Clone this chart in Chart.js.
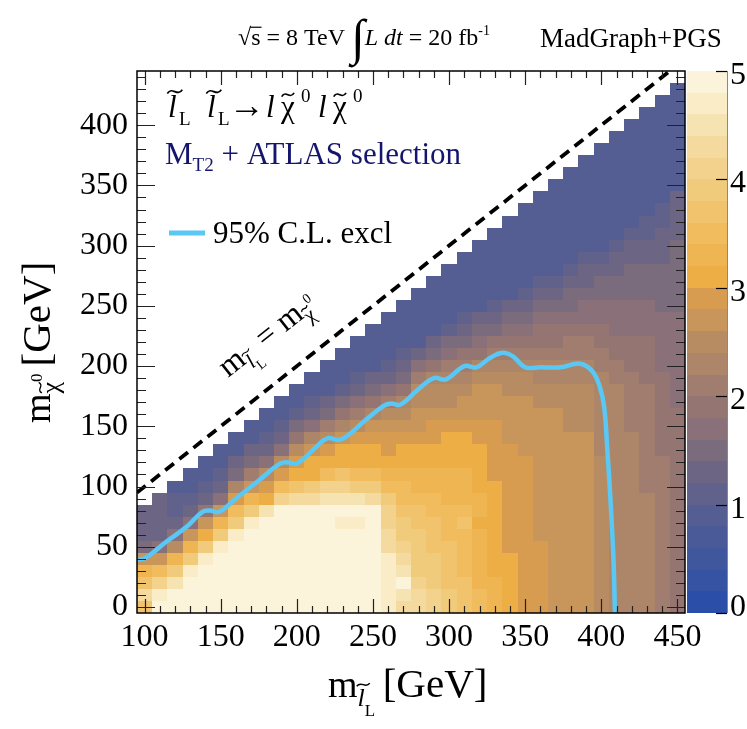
<!DOCTYPE html>
<html>
<head>
<meta charset="utf-8">
<script src="https://cdn.jsdelivr.net/npm/chart.js@4.4.1/dist/chart.umd.min.js"></script>
<style>
body { margin: 0; background: #fff; }
#wrap { width: 747px; height: 729px; }
</style>
</head>
<body>
<div id="wrap"><canvas id="myChart" width="747" height="729"></canvas></div>
<script>
// bin centres (GeV)
var xBins = [100,110,120,130,140,150,160,170,180,190,200,210,220,230,240,250,260,270,
             280,290,300,310,320,330,340,350,360,370,380,390,400,410,420,430,440,450];
var yBins = [0,10,20,30,40,50,60,70,80,90,100,110,120,130,140,150,160,170,180,190,200,
             210,220,230,240,250,260,270,280,290,300,310,320,330,340,350,360,370,380,390,
             400,410,420,430];

// one column per xBin, values from y = 0 upwards (up to y = x - 20)
var zValues = [
  [3.6,4.3,3.7,3.3,2.6,1.5,1.35,1.35,1.35],
  [4.9,4.6,4.1,3.5,2.7,1.7,1.35,1.3,1.3,1.25],
  [4.9,4.9,4.5,3.8,3.3,2.5,1.7,1.3,1.1,1.0,0.9],
  [4.9,4.9,4.9,4.6,3.9,3.2,2.6,1.7,1.3,1.1,0.9,0.9],
  [4.9,4.9,4.9,4.9,4.6,3.8,3.1,2.6,1.8,1.3,1.15,0.9,0.9],
  [4.9,4.9,4.9,4.9,4.9,4.6,3.8,3.2,2.6,1.7,1.3,1.1,0.9,0.9],
  [4.9,4.9,4.9,4.9,4.9,4.9,4.6,3.9,3.4,2.9,2.2,1.5,1.2,0.9,0.9],
  [4.9,4.9,4.9,4.9,4.9,4.9,4.9,4.7,3.9,3.2,2.7,2.0,1.5,1.2,0.9,0.9],
  [4.9,4.9,4.9,4.9,4.9,4.9,4.9,4.9,4.4,3.1,2.8,2.4,1.7,1.35,1.1,0.9,0.9],
  [4.9,4.9,4.9,4.9,4.9,4.9,4.9,4.9,4.9,4.1,3.4,2.9,2.4,1.7,1.35,1.1,0.9,0.9],
  [4.9,4.9,4.9,4.9,4.9,4.9,4.9,4.9,4.9,4.2,3.6,3.1,2.9,2.5,1.8,1.4,1.1,0.9,0.9],
  [4.9,4.9,4.9,4.9,4.9,4.9,4.9,4.9,4.9,4.2,3.8,3.1,3.0,2.6,2.2,1.6,1.3,1.0,0.9,0.9],
  [4.9,4.9,4.9,4.9,4.9,4.9,4.9,4.9,4.9,4.5,4.0,3.5,3.1,2.8,2.5,2.0,1.5,1.2,0.95,0.9,0.9],
  [4.9,4.9,4.9,4.9,4.9,4.9,4.9,4.7,4.9,4.5,4.0,3.6,3.1,3.1,2.7,2.3,1.8,1.4,1.1,0.9,0.9,0.9],
  [4.9,4.9,4.9,4.9,4.9,4.9,4.8,4.7,4.9,4.4,3.9,3.5,3.1,3.0,2.8,2.5,2.1,1.7,1.3,1.0,0.9,0.9,0.9],
  [4.9,4.9,4.9,4.9,4.9,4.9,4.9,4.9,4.9,4.3,3.9,3.5,3.1,3.0,2.8,2.6,2.3,1.9,1.5,1.2,0.95,0.9,0.9,0.9],
  [4.7,4.7,4.6,4.7,4.6,4.2,4.2,4.1,4.0,3.8,3.5,3.2,3.1,2.9,2.8,2.6,2.4,2.0,1.6,1.3,1.0,0.9,0.9,0.9,0.9],
  [4.3,4.5,4.9,4.4,4.2,4.0,3.9,3.8,3.6,3.5,3.4,3.2,3.1,3.05,2.8,2.7,2.5,2.2,1.8,1.5,1.2,1.0,0.9,0.9,0.9,0.9],
  [4.2,4.2,4.1,3.9,3.9,3.8,3.8,3.6,3.6,3.4,3.3,3.2,3.1,3.0,2.9,2.7,2.6,2.5,2.4,2.0,1.6,1.3,0.95,0.9,0.9,0.9,0.9],
  [4.1,4.0,3.9,3.8,3.8,3.7,3.7,3.6,3.5,3.4,3.3,3.2,3.1,3.1,2.95,2.8,2.6,2.5,2.4,2.2,1.8,1.5,1.2,0.95,0.9,0.9,0.9,0.9],
  [3.9,3.8,3.7,3.6,3.7,3.6,3.5,3.4,3.5,3.3,3.3,3.2,3.1,3.1,3.0,2.8,2.7,2.5,2.5,2.3,2.0,1.7,1.4,1.1,0.9,0.9,0.9,0.9,0.9],
  [3.7,3.6,3.6,3.5,3.5,3.5,3.4,3.6,3.4,3.3,3.2,3.2,3.1,3.1,3.0,2.9,2.7,2.6,2.5,2.3,2.1,1.8,1.5,1.3,1.0,0.9,0.9,0.9,0.9,0.9],
  [3.4,3.4,3.3,3.3,3.3,3.2,3.2,3.1,3.2,3.2,3.1,3.1,3.0,3.0,2.9,2.8,2.7,2.6,2.6,2.4,2.2,1.9,1.7,1.4,1.2,0.95,0.9,0.9,0.9,0.9,0.9],
  [3.2,3.2,3.2,3.1,3.1,3.1,3.0,3.1,3.1,3.1,3.0,2.9,2.9,2.9,2.8,2.8,2.7,2.6,2.6,2.4,2.2,2.0,1.8,1.5,1.3,1.05,0.9,0.9,0.9,0.9,0.9,0.9],
  [3.1,3.1,3.1,3.1,3.0,2.9,2.9,2.9,2.9,2.9,2.8,2.8,2.8,2.8,2.7,2.7,2.6,2.6,2.5,2.4,2.2,2.0,1.8,1.6,1.4,1.2,0.95,0.9,0.9,0.9,0.9,0.9,0.9],
  [2.9,2.9,2.9,2.9,2.9,2.9,2.9,2.8,2.8,2.8,2.8,2.8,2.8,2.7,2.7,2.7,2.7,2.6,2.5,2.4,2.2,2.1,1.9,1.7,1.5,1.3,1.05,0.9,0.9,0.9,0.9,0.9,0.9,0.9],
  [2.8,2.8,2.8,2.8,2.8,2.8,2.7,2.7,2.7,2.7,2.7,2.7,2.7,2.6,2.6,2.6,2.6,2.5,2.5,2.3,2.2,2.1,1.9,1.8,1.6,1.4,1.25,1.0,0.9,0.9,0.9,0.9,0.9,0.9,0.9],
  [2.75,2.75,2.75,2.75,2.75,2.7,2.7,2.7,2.7,2.7,2.7,2.7,2.7,2.6,2.6,2.6,2.6,2.5,2.4,2.3,2.2,2.1,1.9,1.8,1.7,1.5,1.3,1.1,0.9,0.9,0.9,0.9,0.9,0.9,0.9,0.9],
  [2.7,2.7,2.7,2.7,2.7,2.7,2.6,2.6,2.6,2.6,2.6,2.6,2.6,2.6,2.6,2.5,2.5,2.5,2.4,2.3,2.2,2.1,2.0,1.8,1.7,1.5,1.4,1.2,1.0,0.9,0.9,0.9,0.9,0.9,0.9,0.9,0.9],
  [2.7,2.7,2.7,2.7,2.7,2.7,2.7,2.6,2.6,2.6,2.6,2.6,2.6,2.6,2.6,2.5,2.5,2.5,2.4,2.3,2.2,2.1,2.0,1.9,1.7,1.6,1.5,1.3,1.2,1.0,0.9,0.9,0.9,0.9,0.9,0.9,0.9,0.9],
  [2.45,2.45,2.45,2.45,2.45,2.4,2.4,2.4,2.4,2.4,2.4,2.4,2.4,2.35,2.35,2.35,2.35,2.3,2.3,2.2,2.1,2.0,1.95,1.8,1.7,1.6,1.5,1.4,1.3,1.1,0.95,0.9,0.9,0.9,0.9,0.9,0.9,0.9,0.9],
  [2.35,2.35,2.35,2.35,2.35,2.35,2.35,2.35,2.35,2.35,2.3,2.3,2.3,2.3,2.3,2.3,2.3,2.25,2.2,2.1,2.0,1.95,1.9,1.75,1.7,1.6,1.5,1.4,1.3,1.2,1.05,0.9,0.9,0.9,0.9,0.9,0.9,0.9,0.9,0.9],
  [2.2,2.2,2.2,2.2,2.2,2.2,2.2,2.2,2.2,2.2,2.2,2.2,2.2,2.2,2.2,2.15,2.15,2.1,2.05,2.0,1.95,1.9,1.8,1.75,1.7,1.6,1.5,1.45,1.4,1.3,1.2,1.1,0.95,0.9,0.9,0.9,0.9,0.9,0.9,0.9,0.9],
  [2.2,2.2,2.2,2.2,2.2,2.2,2.2,2.2,2.2,2.2,2.15,2.15,2.15,2.15,2.15,2.1,2.05,2.0,2.0,1.95,1.9,1.85,1.8,1.75,1.7,1.6,1.5,1.45,1.4,1.3,1.25,1.15,1.0,0.9,0.9,0.9,0.9,0.9,0.9,0.9,0.9,0.9],
  [2.05,2.05,2.05,2.05,2.05,2.05,2.05,2.05,2.05,2.05,2.05,2.05,2.05,1.85,1.85,1.85,1.85,1.85,1.8,1.8,1.75,1.75,1.7,1.7,1.6,1.5,1.5,1.45,1.4,1.35,1.3,1.2,1.1,1.0,0.9,0.9,0.9,0.9,0.9,0.9,0.9,0.9,0.9],
  [1.9,1.9,1.9,1.9,1.9,1.9,1.9,1.9,1.9,1.9,1.9,1.9,1.9,1.9,1.9,1.9,1.9,1.75,1.75,1.75,1.75,1.75,1.75,1.75,1.75,1.45,1.45,1.45,1.45,1.45,1.45,1.3,1.3,1.3,1.3,0.9,0.9,0.9,0.9,0.9,0.9,0.9,0.9,0.9]
];

// 95% C.L. exclusion contour
var contourX = [95,101,114,128,138,143,149,160,175,189,195,200,212,220,229,245,257,262,268,280,290,298,
                310,318,326,335,342,350,360,373,386,394,399,402,404,406,408,409];
var contourY = [39,41,54,67,79,80,79,90,105,119,120,119,132,140,139,155,167,169,168,181,190,189,
                200,199,206,211,208,199,199,199,202,196,183,165,130,90,40,-5];

// m_slepton = m_chi line
var diagX = [95, 445];
var diagY = [95, 445];

var xTickValues = [100,150,200,250,300,350,400,450];
var yTickValues = [0,50,100,150,200,250,300,350,400];
var zTickValues = [0,1,2,3,4,5];

// 25 colour levels, 0 .. 5
var palette = ['#2b4fa8','#3653a3','#40579e','#4a5a98','#555e92','#60628c','#6c6684','#7a6b7d',
  '#8a7078','#957572','#a07d6e','#ad8568','#b88c62','#c8955a','#d89c50','#edaf45','#efb552',
  '#f0bc5e','#f0c36c','#f1cb7c','#f2d28c','#f4da9e','#f6e3b2','#f9ecc6','#fbf3da'];

var serif = "'Liberation Serif', 'DejaVu Serif', serif";
function fnt(size, italic) { return (italic ? 'italic ' : '') + size + 'px ' + serif; }

function colorFor(v) {
  var k = Math.floor(v * 5 + 1e-6);
  if (k < 0) k = 0;
  if (k > 24) k = 24;
  return palette[k];
}

function drawTilde(ctx, cx, cy, w, s) {
  var h = s * 0.06;
  ctx.save();
  ctx.lineWidth = Math.max(1, s * 0.055);
  ctx.strokeStyle = ctx.fillStyle;
  ctx.beginPath();
  ctx.moveTo(cx - w / 2, cy + h);
  ctx.bezierCurveTo(cx - w / 6, cy - 3 * h, cx + w / 6, cy + 3 * h, cx + w / 2, cy - h);
  ctx.stroke();
  ctx.restore();
}

// draws a row of text pieces (sub/superscripts, tildes); p.x forces a position
function rich(ctx, x, y, parts, color) {
  var cx = x;
  ctx.textBaseline = 'alphabetic';
  ctx.textAlign = 'left';
  parts.forEach(function (p) {
    if (p.x !== undefined) cx = x + p.x;
    ctx.font = fnt(p.s, p.i);
    ctx.fillStyle = color || '#000';
    var w = ctx.measureText(p.t).width;
    var by = y + (p.dy || 0);
    ctx.fillText(p.t, cx, by);
    if (p.tilde) {
      drawTilde(ctx, cx + w / 2 + (p.i ? p.s * 0.08 : 0), by - p.s * (p.th || 0.82), p.tw || w * 0.9, p.s);
    }
    if (p.over) {
      ctx.save();
      ctx.strokeStyle = color || '#000';
      ctx.lineWidth = 1.2;
      ctx.beginPath();
      ctx.moveTo(cx - 1, by - p.s * 0.74);
      ctx.lineTo(cx + w + 1, by - p.s * 0.74);
      ctx.stroke();
      ctx.restore();
    }
    cx += w;
  });
  return cx - x;
}

var heatmapPlugin = {
  id: 'heatmap',
  beforeDatasetsDraw: function (chart) {
    var ctx = chart.ctx, xs = chart.scales.x, ys = chart.scales.y;
    ctx.save();
    for (var i = 0; i < xBins.length; i++) {
      var left = Math.round(xs.getPixelForValue(xBins[i] - 5));
      var right = Math.round(xs.getPixelForValue(xBins[i] + 5));
      var col = zValues[i];
      for (var j = 0; j < col.length; j++) {
        var top = Math.round(ys.getPixelForValue(yBins[j] + 5));
        var bot = Math.round(ys.getPixelForValue(yBins[j] - 5));
        ctx.fillStyle = colorFor(col[j]);
        ctx.fillRect(left, top, right - left, bot - top);
      }
    }
    ctx.restore();
  }
};

var decorPlugin = {
  id: 'decor',
  afterDraw: function (chart) {
    var ctx = chart.ctx, a = chart.chartArea;
    var xs = chart.scales.x, ys = chart.scales.y, zs = chart.scales.z;
    ctx.save();

    // ticks on all four sides
    ctx.strokeStyle = '#222';
    ctx.lineWidth = 1.2;
    ctx.beginPath();
    for (var v = 100; v <= 450; v += 10) {
      var px = Math.round(xs.getPixelForValue(v)) + 0.5;
      var lx = v % 50 === 0 ? 14 : 7;
      ctx.moveTo(px, a.bottom); ctx.lineTo(px, a.bottom - lx);
      ctx.moveTo(px, a.top); ctx.lineTo(px, a.top + lx);
    }
    for (var w = 0; w <= 440; w += 10) {
      var py = Math.round(ys.getPixelForValue(w)) + 0.5;
      var ly = w % 50 === 0 ? 18 : 9;
      ctx.moveTo(a.left, py); ctx.lineTo(a.left + ly, py);
      ctx.moveTo(a.right, py); ctx.lineTo(a.right - ly, py);
    }
    ctx.stroke();
    ctx.lineWidth = 1.5;
    ctx.strokeStyle = '#000';
    ctx.strokeRect(a.left, a.top, a.right - a.left, a.bottom - a.top);

    // colour bar
    var cbL = a.right + 2, cbR = a.right + 42;
    for (var k = 0; k < palette.length; k++) {
      var t = Math.round(zs.getPixelForValue((k + 1) * 0.2));
      var b = Math.round(zs.getPixelForValue(k * 0.2));
      ctx.fillStyle = palette[k];
      ctx.fillRect(cbL, t, cbR - cbL, b - t);
    }
    ctx.strokeStyle = '#888';
    ctx.lineWidth = 1;
    ctx.beginPath();
    ctx.moveTo(cbR + 0.5, a.top); ctx.lineTo(cbR + 0.5, a.bottom);
    ctx.stroke();
    ctx.strokeStyle = '#000';
    ctx.lineWidth = 1.2;
    ctx.fillStyle = '#000';
    ctx.font = fnt(32);
    ctx.textAlign = 'left';
    ctx.textBaseline = 'middle';
    zTickValues.forEach(function (z) {
      var zy = Math.round(zs.getPixelForValue(z)) + 0.5;
      ctx.beginPath();
      ctx.moveTo(cbR - 11, zy); ctx.lineTo(cbR, zy);
      ctx.stroke();
      ctx.fillText(String(z), cbR + 3, z === 0 ? zy - 6 : zy + 4);
    });

    // header
    rich(ctx, 238, 45, [
      {t: '\u221A', s: 24}, {t: 's', s: 24, over: true}, {t: ' = 8 TeV ', s: 24},
      {t: '\u222B', s: 50, dy: 9}, {t: 'L', s: 24, i: true}, {t: ' dt', s: 24, i: true},
      {t: ' = 20 fb', s: 24}, {t: '-1', s: 14, dy: -10}
    ]);
    ctx.font = fnt(27);
    ctx.fillStyle = '#000';
    ctx.fillText('MadGraph+PGS', 540, 47);

    // process label
    rich(ctx, 0, 117, [
      {x: 168, t: 'l', s: 31, i: true, tilde: true, tw: 15}, {x: 179, t: 'L', s: 19, dy: 8},
      {x: 207, t: 'l', s: 31, i: true, tilde: true, tw: 15}, {x: 218, t: 'L', s: 19, dy: 8},
      {x: 229, t: '\u2192', s: 36},
      {x: 266, t: 'l', s: 31, i: true},
      {x: 281, t: '\u03C7', s: 31, tilde: true, th: 0.72}, {x: 301, t: '0', s: 19, dy: -15},
      {x: 318, t: 'l', s: 31, i: true},
      {x: 333, t: '\u03C7', s: 31, tilde: true, th: 0.72}, {x: 353, t: '0', s: 19, dy: -15}
    ]);
    rich(ctx, 165, 164, [
      {t: 'M', s: 31}, {t: 'T2', s: 19, dy: 7}, {t: ' + ATLAS selection', s: 31}
    ], '#15156e');

    // legend
    ctx.strokeStyle = '#5ac8f5';
    ctx.lineWidth = 5;
    ctx.beginPath();
    ctx.moveTo(169, 233); ctx.lineTo(205, 233);
    ctx.stroke();
    ctx.font = fnt(31);
    ctx.fillStyle = '#000';
    ctx.textBaseline = 'alphabetic';
    ctx.fillText('95% C.L. excl', 213, 243);

    // label along the diagonal
    var ang = Math.atan2(ys.getPixelForValue(95) - ys.getPixelForValue(445),
                         xs.getPixelForValue(445) - xs.getPixelForValue(95));
    ctx.save();
    ctx.translate(228, 378);
    ctx.rotate(-ang);
    rich(ctx, 0, 0, [
      {t: 'm', s: 32}, {t: 'l', s: 21, i: true, dy: 8, tilde: true, tw: 10}, {t: 'L', s: 14, dy: 14},
      {t: ' = ', s: 32}, {t: 'm', s: 32}, {t: '\u03C7', s: 21, dy: 8, tilde: true, th: 0.72},
      {t: '0', s: 14, dy: -9}
    ]);
    ctx.restore();

    // axis titles
    rich(ctx, 328, 697, [
      {t: 'm', s: 38}, {t: 'l', s: 26, i: true, dy: 9, tilde: true, tw: 13}, {t: 'L', s: 17, dy: 19},
      {t: ' ', s: 30}, {t: '[GeV]', s: 41}
    ]);
    ctx.save();
    ctx.translate(50, 423);
    ctx.rotate(-Math.PI / 2);
    rich(ctx, 0, 0, [
      {t: 'm', s: 38}, {t: '\u03C7', s: 26, dy: 9, tilde: true, th: 0.72}, {t: '0', s: 17, dy: -8},
      {t: ' ', s: 28}, {t: '[GeV]', s: 41}
    ]);
    ctx.restore();

    ctx.restore();
  }
};

function toPoints(xArr, yArr) {
  return xArr.map(function (x, i) { return {x: x, y: yArr[i]}; });
}

new Chart('myChart', {
  type: 'scatter',
  data: {
    datasets: [{
      label: '95% C.L. excl',
      data: toPoints(contourX, contourY),
      showLine: true,
      borderColor: '#5ac8f5',
      borderWidth: 4.5,
      tension: 0.4,
      pointRadius: 0
    }, {
      label: 'diagonal',
      data: toPoints(diagX, diagY),
      showLine: true,
      borderColor: '#000',
      borderWidth: 3.8,
      borderDash: [11, 7],
      pointRadius: 0
    }]
  },
  options: {
    responsive: false,
    animation: false,
    events: [],
    layout: { padding: { top: 71, right: 62, left: 0, bottom: 0 } },
    plugins: { legend: { display: false }, tooltip: { enabled: false } },
    scales: {
      x: {
        type: 'linear', min: 95, max: 455,
        grid: { display: false, drawTicks: false }, border: { display: false },
        afterBuildTicks: function (axis) {
          axis.ticks = xTickValues.map(function (v) { return {value: v}; });
        },
        afterFit: function (s) { s.height = 116; },
        ticks: { color: '#000', font: { family: serif, size: 32 }, padding: 5, maxRotation: 0 }
      },
      y: {
        type: 'linear', min: -5, max: 445,
        grid: { display: false, drawTicks: false }, border: { display: false },
        afterBuildTicks: function (axis) {
          axis.ticks = yTickValues.map(function (v) { return {value: v}; });
        },
        afterFit: function (s) { s.width = 137; },
        ticks: { color: '#000', font: { family: serif, size: 32 }, padding: 9 }
      },
      z: { type: 'linear', position: 'right', min: 0, max: 5, display: false }
    }
  },
  plugins: [heatmapPlugin, decorPlugin]
});
</script>
</body>
</html>
